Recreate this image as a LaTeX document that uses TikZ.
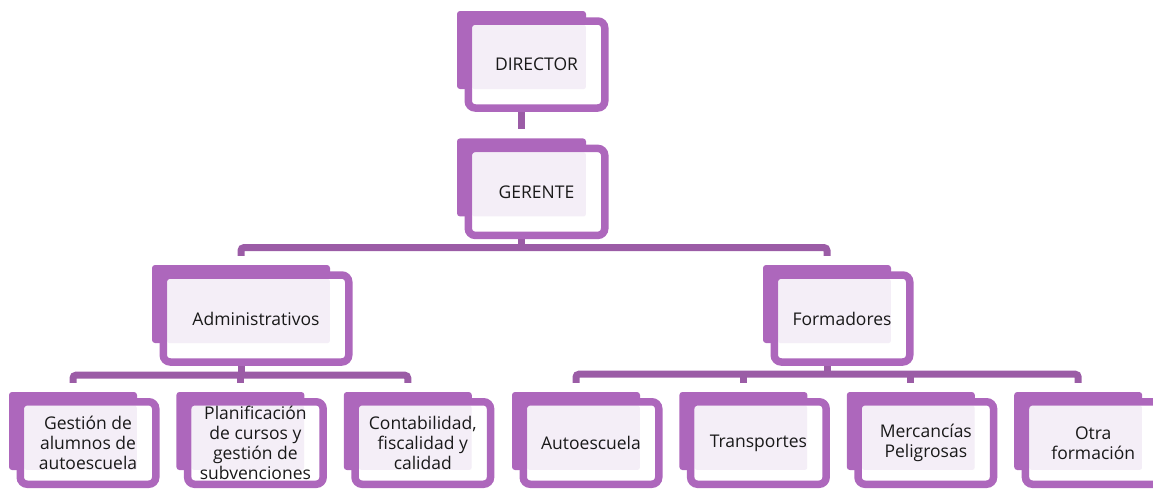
\documentclass[tikz,border=0pt]{standalone}
\usepackage{fontspec}
\setmainfont{Open Sans}
\usetikzlibrary{positioning,backgrounds}
\definecolor{orgpurple}{RGB}{173,103,188}
\definecolor{orglink}{RGB}{155,92,166}
\definecolor{orglav}{RGB}{244,238,247}

\begin{document}
\begin{tikzpicture}[x=1pt, y=-1pt, font=\fontsize{17.5}{20}\selectfont,
     back/.style={fill=orgpurple, rounded corners=3pt, minimum width=128pt, minimum height=78pt, inner sep=0pt},
     front/.style={draw=orgpurple, fill=white, line width=7.5pt, rounded corners=7pt, minimum width=135.5pt,
       minimum height=87pt, inner sep=0pt, align=center, text=black!90,
       path picture={\fill[orglav, rounded corners=2pt] ([shift={(4,4)}]path picture bounding box.north west)
         rectangle ([shift={(-19,68)}]path picture bounding box.north east);}},
     low/.style={front, minimum height=82.5pt},
     link/.style={draw=orglink, line width=7pt, rounded corners=3pt}]
  \useasboundingbox (0,0) rectangle (1153,488);
  % top of the chart
  \node[back, minimum width=129pt] (dir) at (521.5,50) {};
  \node[front, minimum width=136.5pt] (dir-t) at ([shift={(15,14.5)}]dir.center) {DIRECTOR};
  \node[back, minimum width=129pt, below=49pt of dir] (ger) {};
  \node[front, minimum width=136.5pt] (ger-t) at ([shift={(15,14.5)}]ger.center) {GERENTE};
  % departments
  \node[back, minimum width=178pt] (adm) at (241,304) {};
  \node[front, minimum width=185.5pt] (adm-t) at ([shift={(15,14.5)}]adm.center) {Administrativos};
  \node[back] (form) at (827,304) {};
  \node[front] (form-t) at ([shift={(15,14.5)}]form.center) {Formadores};
  % staff
  \node[back] (g1) at (73,431) {};
  \node[low] (g1-t) at ([shift={(15,12)}]g1.center) {Gestión de\\alumnos de\\autoescuela};
  \node[back, right=39pt of g1] (g2) {};
  \node[low] (g2-t) at ([shift={(15,12)}]g2.center) {Planificación\\de cursos y\\gestión de\\subvenciones};
  \node[back, right=39pt of g2] (g3) {};
  \node[low] (g3-t) at ([shift={(15,12)}]g3.center) {Contabilidad,\\fiscalidad y\\calidad};
  \node[back] (f1) at (576,431) {};
  \node[low] (f1-t) at ([shift={(15,12)}]f1.center) {Autoescuela};
  \node[back, right=39pt of f1] (f2) {};
  \node[low] (f2-t) at ([shift={(15,12)}]f2.center) {Transportes};
  \node[back, right=39pt of f2] (f3) {};
  \node[low] (f3-t) at ([shift={(15,12)}]f3.center) {Mercancías\\Peligrosas};
  \node[back, right=39pt of f3] (f4) {};
  \node[low] (f4-t) at ([shift={(15,12)}]f4.center) {Otra\\formación};
  % connectors
  \begin{pgfonlayer}{background}
    \draw[link] (dir.south) -- ([yshift=9pt]ger.north);
    \draw[link] (ger.south) -- ++(0,31) coordinate (ger-bar);
    \draw[link] ([yshift=9pt]adm.north) |- (ger-bar) -| ([yshift=9pt]form.north);
    \draw[link] (adm.south) -- ++(0,32) coordinate (adm-bar);
    \draw[link] ([yshift=9pt]g1.north) |- (adm-bar) -| ([yshift=9pt]g3.north);
    \draw[link] (adm-bar -| g2.north) -- ([yshift=9pt]g2.north);
    \draw[link] (form.south) -- ++(0,31) coordinate (form-bar);
    \draw[link] ([yshift=9pt]f1.north) |- (form-bar) -| ([yshift=9pt]f4.north);
    \foreach \n in {f2,f3}
      \draw[link] (form-bar -| \n.north) -- ([yshift=9pt]\n.north);
  \end{pgfonlayer}
\end{tikzpicture}
\end{document}
